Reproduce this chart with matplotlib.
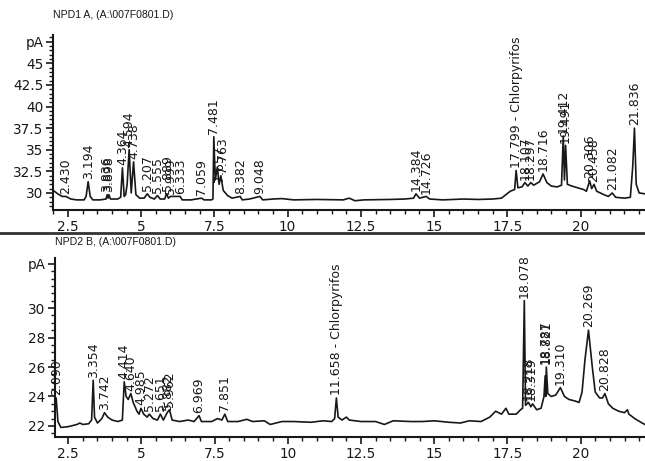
import numpy as np
import matplotlib
matplotlib.use("Agg")
import matplotlib.pyplot as plt
from matplotlib.ticker import FixedLocator, MultipleLocator

# ---------------- data ----------------
top_title = r"NPD1 A, (A:\007F0801.D)"
bot_title = r"NPD2 B, (A:\007F0801.D)"

top_t = [2.00, 2.15, 2.30, 2.43, 2.60, 2.80, 3.05, 3.12, 3.19, 3.26, 3.35, 3.60, 3.80,
         3.84, 3.87, 3.90, 3.95, 4.20, 4.30, 4.36, 4.42, 4.47, 4.52, 4.59, 4.66, 4.74,
         4.82, 4.95, 5.10, 5.21, 5.30, 5.45, 5.555, 5.65, 5.80, 5.87, 5.93, 6.00, 6.33,
         6.40, 6.70, 7.06, 7.15, 7.40, 7.45, 7.48, 7.53, 7.60, 7.66, 7.72, 7.80, 7.95,
         8.10, 8.38, 8.45, 8.70, 9.05, 9.15, 9.50, 9.80, 10.2, 11.0, 11.9, 12.1, 12.3,
         12.6, 13.5, 14.0, 14.30, 14.38, 14.50, 14.73, 14.85, 15.3, 16.0, 16.5, 17.0,
         17.30, 17.45, 17.60, 17.75, 17.80, 17.86, 18.00, 18.10, 18.20, 18.30, 18.40,
         18.60, 18.72, 18.85, 19.00, 19.20, 19.35, 19.41, 19.45, 19.49, 19.55, 19.70,
         19.90, 20.10, 20.20, 20.31, 20.38, 20.46, 20.55, 20.80, 20.95, 21.08, 21.20,
         21.50, 21.70, 21.78, 21.84, 21.90, 22.00, 22.20]
top_v = [30.3, 29.9, 29.6, 29.6, 29.3, 29.2, 29.2, 29.6, 31.3, 29.6, 29.2, 29.2, 29.3,
         29.8, 29.4, 29.8, 29.3, 29.3, 29.5, 32.9, 29.6, 29.8, 31.0, 35.0, 30.0, 33.6,
         29.8, 29.4, 29.4, 29.9, 29.5, 29.3, 29.7, 29.3, 29.3, 29.9, 29.4, 29.6, 29.6,
         29.2, 29.2, 29.4, 29.2, 29.2, 29.3, 36.5, 31.5, 33.0, 31.0, 32.0, 30.3, 29.7,
         29.4, 29.6, 29.2, 29.3, 29.6, 29.2, 29.3, 29.35, 29.2, 29.25, 29.2, 29.4, 29.1,
         29.2, 29.25, 29.3, 29.4, 29.9, 29.4, 29.6, 29.3, 29.2, 29.3, 29.25, 29.3,
         29.4, 29.8, 30.2, 30.4, 32.6, 30.6, 30.7, 31.2, 30.8, 31.2, 30.9,
         31.3, 32.2, 31.2, 30.8, 30.7, 30.9, 36.6, 31.5, 35.5, 31.0, 30.8,
         30.6, 30.4, 30.2, 31.4, 30.5, 31.0, 30.2, 29.8, 29.6, 30.0, 29.5,
         29.4, 29.5, 33.0, 37.5, 31.0, 30.0, 29.9]

top_lbl_t = [2.430, 3.194, 3.836, 3.898, 4.364, 4.594, 4.738, 5.207, 5.555, 5.889,
             5.999, 6.333, 7.059, 7.481, 7.657, 7.763, 8.382, 9.048, 14.384, 14.726,
             17.799, 18.107, 18.297, 18.716, 19.412, 19.491, 20.306, 20.458, 21.082,
             21.836]
top_lbl_txt = ["2.430", "3.194", "3.836", "3.898", "4.364", "4.594", "4.738", "5.207",
               "5.555", "5.889", "5.999", "6.333", "7.059", "7.481", "7.657", "7.763",
               "8.382", "9.048", "14.384", "14.726", "17.799 - Chlorpyrifos", "18.107",
               "18.297", "18.716", "19.412", "19.491", "20.306", "20.458", "21.082",
               "21.836"]

bot_t = [2.00, 2.06, 2.09, 2.15, 2.25, 2.50, 2.80, 2.90, 3.00, 3.20, 3.30, 3.354, 3.40,
         3.50, 3.65, 3.74, 3.85, 4.00, 4.20, 4.35, 4.414, 4.48, 4.55, 4.64, 4.72, 4.85,
         4.92, 4.985, 5.08, 5.20, 5.27, 5.40, 5.55, 5.65, 5.75, 5.88, 5.96, 6.05, 6.30,
         6.60, 6.80, 6.97, 7.05, 7.40, 7.60, 7.75, 7.85, 7.95, 8.30, 8.60, 8.80, 9.20,
         9.40, 9.80, 10.2, 10.8, 11.2, 11.50, 11.60, 11.66, 11.72, 11.85, 12.00, 12.10,
         12.5, 13.0, 13.3, 13.6, 14.2, 14.6, 15.0, 15.5, 15.9, 16.2, 16.6, 16.9, 17.1,
         17.3, 17.45, 17.55, 17.80, 17.95, 18.02, 18.078, 18.12, 18.22, 18.30, 18.36,
         18.50, 18.65, 18.75, 18.79, 18.81, 18.83, 18.88, 19.00, 19.15, 19.31, 19.45,
         19.60, 19.80, 19.95, 20.05, 20.15, 20.27, 20.40, 20.50, 20.65, 20.75, 20.83,
         20.95, 21.10, 21.30, 21.50, 21.60, 21.65, 21.85, 22.10, 22.20]
bot_v = [23.0, 23.8, 23.9, 22.3, 21.9, 21.95, 22.1, 22.2, 22.1, 22.15, 22.4, 25.1, 22.6,
         22.2, 22.5, 22.9, 22.6, 22.4, 22.3, 22.4, 25.0, 24.0, 23.8, 24.2, 23.6, 23.0,
         22.8, 23.2, 22.8, 22.6, 22.8, 22.5, 22.4, 22.8, 22.4, 22.9, 23.1, 22.4, 22.3,
         22.4, 22.3, 22.7, 22.3, 22.3, 22.5, 22.4, 22.8, 22.3, 22.3, 22.45, 22.3, 22.35,
         22.1, 22.3, 22.3, 22.25, 22.35, 22.3, 22.5, 23.9, 22.6, 22.4, 22.6, 22.4,
         22.3, 22.3, 22.1, 22.35, 22.3, 22.3, 22.35, 22.25, 22.2, 22.35, 22.3, 22.6, 23.0,
         22.8, 23.2, 22.8, 22.8, 23.1, 23.2, 30.5, 23.4, 23.6, 23.3, 23.5,
         23.1, 23.2, 24.0, 25.4, 24.0, 26.0, 24.2, 24.0, 24.1, 24.6, 24.0,
         23.8, 23.7, 23.6, 24.3, 26.5, 28.5, 26.0, 24.3, 23.9, 23.9, 24.2,
         23.5, 23.2, 23.0, 22.9, 23.1, 22.8, 22.5, 22.2, 22.1]

bot_lbl_t = [2.090, 3.354, 3.742, 4.414, 4.640, 4.985, 5.272, 5.651, 5.882, 5.962,
             6.969, 7.851, 11.658, 18.078, 18.218, 18.319, 18.787, 18.821, 19.310,
             20.269, 20.828]
bot_lbl_txt = ["2.090", "3.354", "3.742", "4.414", "4.640", "4.985", "5.272", "5.651",
               "5.882", "5.962", "6.969", "7.851", "11.658 - Chlorpyrifos", "18.078",
               "18.218", "18.319", "18.787", "18.821", "19.310", "20.269", "20.828"]

x_ticks = [2.5, 5, 7.5, 10, 12.5, 15, 17.5, 20]
x_tick_lbl = ["2.5", "5", "7.5", "10", "12.5", "15", "17.5", "20"]
top_y_ticks = [30, 32.5, 35, 37.5, 40, 42.5, 45, 47.5]
top_y_lbl = ["30", "32.5", "35", "37.5", "40", "42.5", "45", "pA"]
bot_y_ticks = [22, 24, 26, 28, 30, 33]
bot_y_lbl = ["22", "24", "26", "28", "30", "pA"]

# ---------------- drawing ----------------
INK = "#181818"
W, H = 645, 461
fig = plt.figure(figsize=(W / 100, H / 100), dpi=100)
fig.patch.set_facecolor("white")

tick_font = dict(family=["DejaVu Sans"], size=9.8)
lbl_font = ["DejaVu Sans"]


def style_axes(ax, xlim, ylim, yt, ylbl, ymin):
    ax.set_xlim(*xlim)
    ax.set_ylim(*ylim)
    for s in ("top", "right"):
        ax.spines[s].set_visible(False)
    for s in ("left", "bottom"):
        ax.spines[s].set_linewidth(1.5)
        ax.spines[s].set_color(INK)
    ax.xaxis.set_major_locator(FixedLocator(x_ticks))
    ax.set_xticklabels(x_tick_lbl, **tick_font, color=INK)
    ax.xaxis.set_minor_locator(MultipleLocator(0.5))
    ax.yaxis.set_major_locator(FixedLocator(yt))
    ax.set_yticklabels(ylbl, **tick_font, color=INK)
    ax.yaxis.set_minor_locator(MultipleLocator(ymin))
    ax.tick_params(which="major", length=5, width=1.2, color=INK, pad=2)
    ax.tick_params(which="minor", length=3, width=1.0, color=INK)
    ax.patch.set_alpha(0)


def draw_labels(ax, tt, vv, lt, ltxt):
    tt = np.asarray(tt)
    vv = np.asarray(vv)
    for t, s in zip(lt, ltxt):
        m = np.abs(tt - t) < 0.045
        top = vv[m].max() if m.any() else np.interp(t, tt, vv)
        ax.annotate(s, xy=(t, top), xytext=(0, 2), textcoords="offset points",
                    rotation=90, ha="center", va="bottom", fontsize=9,
                    family=lbl_font, color=INK, annotation_clip=False)


# top panel
ax1 = fig.add_axes([53 / W, 1 - 210 / H, 1 - 53 / W, (210 - 35) / H])
ax1.plot(top_t, top_v, color=INK, lw=1.2)
style_axes(ax1, (1.99, 22.2), (28.03, 48.27), top_y_ticks, top_y_lbl, 0.5)
draw_labels(ax1, top_t, top_v, top_lbl_t, top_lbl_txt)

# bottom panel
ax2 = fig.add_axes([55 / W, 1 - 437 / H, 1 - 55 / W, (437 - 258) / H])
ax2.plot(bot_t, bot_v, color=INK, lw=1.2)
style_axes(ax2, (2.05, 22.2), (21.25, 33.4), bot_y_ticks, bot_y_lbl, 0.5)
draw_labels(ax2, bot_t, bot_v, bot_lbl_t, bot_lbl_txt)

# titles
fig.text(53 / W, 1 - 15 / H, top_title, ha="left", va="center", fontsize=7.6,
         family=["Liberation Sans", "DejaVu Sans"], color=INK)
fig.text(55 / W, 1 - 242 / H, bot_title, ha="left", va="center", fontsize=7.6,
         family=["Liberation Sans", "DejaVu Sans"], color=INK)

# separator line between panels
fig.add_artist(plt.Line2D([0, 1], [1 - 233 / H, 1 - 233 / H], transform=fig.transFigure,
                          color="#333333", lw=2.0))

fig.savefig("out.png", dpi=100)
